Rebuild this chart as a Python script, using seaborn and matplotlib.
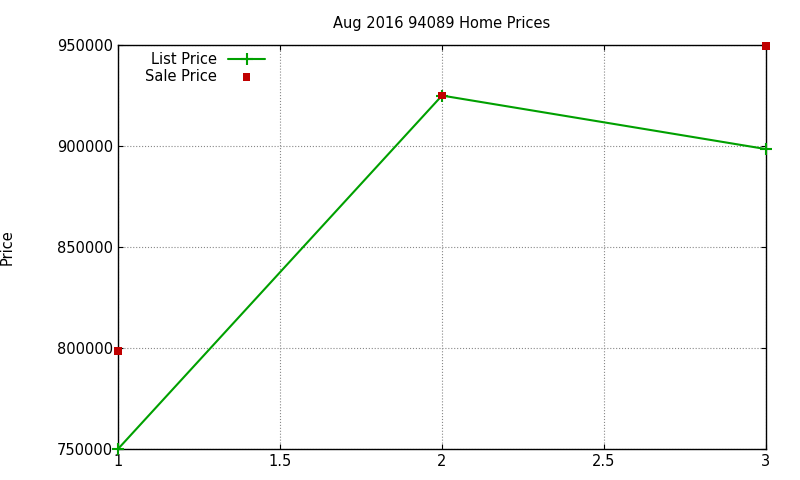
import matplotlib
matplotlib.use("Agg")
import matplotlib.pyplot as plt
import seaborn as sns

x_vals = [1, 2, 3]
list_price = [750000, 925000, 898500]
sale_price = [798500, 925000, 949500]

sns.set_style("ticks")
plt.rcParams['font.family'] = ['DejaVu Sans']
plt.rcParams['text.color'] = 'black'
plt.rcParams['xtick.color'] = 'black'
plt.rcParams['ytick.color'] = 'black'
plt.rcParams['axes.labelcolor'] = 'black'

fig = plt.figure(figsize=(8, 4.8), dpi=100)
ax = fig.add_axes([0.1475, 0.0646, 0.81, 0.8415])

ax.plot(x_vals, list_price, color="#00a000", marker="+", markersize=8,
        markeredgewidth=1.5, linewidth=1.5, linestyle="-", label="List Price",
        clip_on=False, zorder=4)
sns.scatterplot(x=x_vals, y=sale_price, ax=ax, color="#c00000", marker="s",
                s=30, edgecolor="none", label="Sale Price", zorder=5, clip_on=False)

ax.set_xlim(1, 3)
ax.set_ylim(750000, 950000)
ax.set_xticks([1, 1.5, 2, 2.5, 3])
ax.set_xticklabels(["1", "1.5", "2", "2.5", "3"])
ax.set_yticks([750000, 800000, 850000, 900000, 950000])
ax.set_yticklabels(["750000", "800000", "850000", "900000", "950000"])
ax.tick_params(direction="in", labelsize=10.5, top=True, right=True)
ax.grid(True, linestyle=":", color="#888888", linewidth=0.8)
for s in ax.spines.values():
    s.set_color("black")
    s.set_linewidth(1)

ax.set_xlabel("")
ax.set_ylabel("Price", fontsize=10.5)
ax.yaxis.set_label_coords(-0.16, 0.5)
ax.set_title("Aug 2016 94089 Home Prices", fontsize=10.5, pad=12)
ax.legend(loc="upper left", frameon=False, markerfirst=False, fontsize=10.5,
          borderaxespad=0.1, handlelength=2.5, labelspacing=0.1,
          bbox_to_anchor=(0.03, 1.0))

fig.savefig("out.png", dpi=100)
